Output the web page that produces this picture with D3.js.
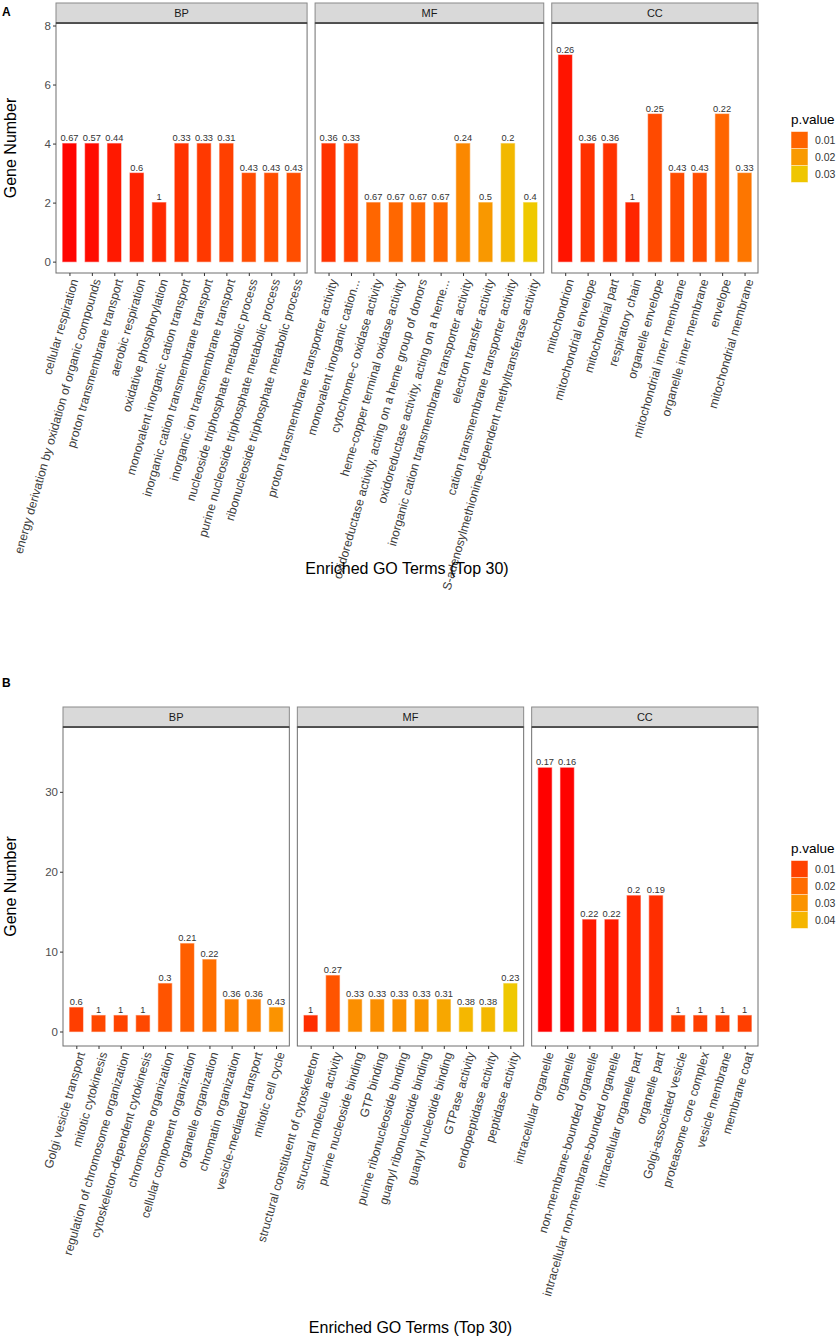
<!DOCTYPE html>
<html>
<head>
<meta charset="utf-8">
<script src="https://cdn.jsdelivr.net/npm/d3@7"></script>
<style>
  body { margin: 0; background: #fff; }
  svg { font-family: "Liberation Sans", Arial, Helvetica, sans-serif; }
</style>
</head>
<body>
<svg id="chart"></svg>
<script>
// ---- data: panel A ----
const aBpTerms = ["cellular respiration", "energy derivation by oxidation of organic compounds",
  "proton transmembrane transport", "aerobic respiration", "oxidative phosphorylation",
  "monovalent inorganic cation transport", "inorganic cation transmembrane transport",
  "inorganic ion transmembrane transport", "nucleoside triphosphate metabolic process",
  "purine nucleoside triphosphate metabolic process", "ribonucleoside triphosphate metabolic process"];
const aBpCounts = [4, 4, 4, 3, 2, 4, 4, 4, 3, 3, 3];
const aBpRatio = [0.67, 0.57, 0.44, 0.6, 1, 0.33, 0.33, 0.31, 0.43, 0.43, 0.43];
const aBpP = [0.0004, 0.0011, 0.0025, 0.0033, 0.004, 0.005, 0.0057, 0.0064, 0.0076, 0.0077, 0.0078];

const aMfTerms = ["proton transmembrane transporter activity", "monovalent inorganic cation...",
  "cytochrome-c oxidase activity", "heme-copper terminal oxidase activity",
  "oxidoreductase activity, acting on a heme group of donors", "oxidoreductase activity, acting on a heme...",
  "inorganic cation transmembrane transporter activity", "electron transfer activity",
  "cation transmembrane transporter activity", "S-adenosylmethionine-dependent methyltransferase activity"];
const aMfCounts = [4, 4, 2, 2, 2, 2, 4, 2, 4, 2];
const aMfRatio = [0.36, 0.33, 0.67, 0.67, 0.67, 0.67, 0.24, 0.5, 0.2, 0.4];
const aMfP = [0.0051, 0.0064, 0.0104, 0.0105, 0.0106, 0.0107, 0.0166, 0.0197, 0.0268, 0.031];

const aCcTerms = ["mitochondrion", "mitochondrial envelope", "mitochondrial part", "respiratory chain",
  "organelle envelope", "mitochondrial inner membrane", "organelle inner membrane", "envelope",
  "mitochondrial membrane"];
const aCcCounts = [7, 4, 4, 2, 5, 3, 3, 5, 3];
const aCcRatio = [0.26, 0.36, 0.36, 1, 0.25, 0.43, 0.43, 0.22, 0.33];
const aCcP = [0.002, 0.0049, 0.005, 0.0038, 0.0074, 0.0076, 0.0077, 0.0102, 0.0134];

const aLegendBreaks = [0.01, 0.02, 0.03];

// ---- data: panel B ----
const bBpTerms = ["Golgi vesicle transport", "mitotic cytokinesis", "regulation of chromosome organization",
  "cytoskeleton-dependent cytokinesis", "chromosome organization", "cellular component organization",
  "organelle organization", "chromatin organization", "vesicle-mediated transport", "mitotic cell cycle"];
const bBpCounts = [3, 2, 2, 2, 6, 11, 9, 4, 4, 3];
const bBpRatio = [0.6, 1, 1, 1, 0.3, 0.21, 0.22, 0.36, 0.36, 0.43];
const bBpP = [0.0094, 0.0114, 0.0104, 0.0115, 0.0143, 0.017, 0.0208, 0.0248, 0.025, 0.030];

const bMfTerms = ["structural constituent of cytoskeleton", "structural molecule activity",
  "purine nucleoside binding", "GTP binding", "purine ribonucleoside binding",
  "guanyl ribonucleotide binding", "guanyl nucleotide binding", "GTPase activity",
  "endopeptidase activity", "peptidase activity"];
const bMfCounts = [2, 7, 4, 4, 4, 4, 4, 3, 3, 6];
const bMfRatio = [1, 0.27, 0.33, 0.33, 0.33, 0.33, 0.31, 0.38, 0.38, 0.23];
const bMfP = [0.007, 0.0143, 0.029, 0.0291, 0.0296, 0.031, 0.036, 0.0405, 0.041, 0.046];

const bCcTerms = ["intracellular organelle", "organelle", "non-membrane-bounded organelle",
  "intracellular non-membrane-bounded organelle", "intracellular organelle part", "organelle part",
  "Golgi-associated vesicle", "proteasome core complex", "vesicle membrane", "membrane coat"];
const bCcCounts = [33, 33, 14, 14, 17, 17, 2, 2, 2, 2];
const bCcRatio = [0.17, 0.16, 0.22, 0.22, 0.2, 0.19, 1, 1, 1, 1];
const bCcP = [0.0002, 0.0003, 0.0038, 0.004, 0.0062, 0.007, 0.0094, 0.0095, 0.0095, 0.0096];

const bLegendBreaks = [0.01, 0.02, 0.03, 0.04];

const facetNames = ["BP", "MF", "CC"];

function build(termsList, countsList, ratioList, pList) {
  return facetNames.map((name, i) => ({
    name: name,
    rows: termsList[i].map((t, j) => ({term: t, count: countsList[i][j], ratio: ratioList[i][j], p: pList[i][j]}))
  }));
}

const figA = {
  tag: "A", top: 3, bottom: 273, left: 56, right: 758,
  yTicks: [0, 2, 4, 6, 8],
  facets: build([aBpTerms, aMfTerms, aCcTerms], [aBpCounts, aMfCounts, aCcCounts],
                [aBpRatio, aMfRatio, aCcRatio], [aBpP, aMfP, aCcP]),
  colorDomain: [0, 0.01, 0.02, 0.03, 0.032],
  colorRange: ["#ff0000", "#ff6400", "#f99a00", "#efc600", "#eecb00"],
  breaks: aLegendBreaks, legendTop: 124, xTitleY: 574, tagY: 16
};
const figB = {
  tag: "B", top: 707, bottom: 1046, left: 63, right: 758,
  yTicks: [0, 10, 20, 30],
  facets: build([bBpTerms, bMfTerms, bCcTerms], [bBpCounts, bMfCounts, bCcCounts],
                [bBpRatio, bMfRatio, bCcRatio], [bBpP, bMfP, bCcP]),
  colorDomain: [0, 0.01, 0.02, 0.03, 0.04, 0.046],
  colorRange: ["#ff0000", "#ff4200", "#ff6c00", "#fb9300", "#f5b500", "#efc800"],
  breaks: bLegendBreaks, legendTop: 853, xTitleY: 1333, tagY: 687
};

const width = 838, height = 1339;
const svg = d3.select("#chart").attr("width", width).attr("height", height);

function drawFigure(fig) {
  const g = svg.append("g");
  const stripH = 20, gap = 8, expandAdd = 0.6;
  const panelTop = fig.top + stripH;

  const color = d3.scaleLinear().domain(fig.colorDomain).range(fig.colorRange).interpolate(d3.interpolateRgb);

  // y scale: counts, with labels making room above (ggplot-like expansion)
  const maxCount = d3.max(fig.facets, f => d3.max(f.rows, d => d.count)) * 1.1;
  const yScale = d3.scaleLinear()
    .domain([-0.05 * maxCount, maxCount * 1.05])
    .range([fig.bottom, panelTop]);

  // free x space: each facet width proportional to its number of terms
  const units = fig.facets.map(f => f.rows.length - 1 + 2 * expandAdd);
  const pxPerUnit = (fig.right - fig.left - gap * (fig.facets.length - 1)) / d3.sum(units);

  let x0 = fig.left;
  fig.facets.forEach((f, i) => {
    const w = units[i] * pxPerUnit;
    const xScale = d3.scalePoint()
      .domain(f.rows.map(d => d.term))
      .range([x0, x0 + w])
      .padding(expandAdd);
    const barW = xScale.step() * 0.6;

    // panel background + border
    g.append("rect")
      .attr("x", x0).attr("y", panelTop)
      .attr("width", w).attr("height", fig.bottom - panelTop)
      .attr("fill", "white").attr("stroke", "#6e6e6e").attr("stroke-width", 1);

    // strip
    g.append("rect")
      .attr("x", x0).attr("y", fig.top)
      .attr("width", w).attr("height", stripH)
      .attr("fill", "#d9d9d9").attr("stroke", "#8a8a8a").attr("stroke-width", 1);
    g.append("line")
      .attr("x1", x0).attr("x2", x0 + w)
      .attr("y1", panelTop).attr("y2", panelTop)
      .attr("stroke", "#333").attr("stroke-width", 1.5);
    g.append("text")
      .attr("x", x0 + w / 2).attr("y", fig.top + stripH / 2)
      .attr("dy", "0.35em")
      .attr("text-anchor", "middle")
      .attr("font-size", 11).attr("fill", "#1a1a1a")
      .text(f.name);

    // bars
    g.selectAll(null)
      .data(f.rows)
      .enter()
      .append("rect")
      .attr("x", d => xScale(d.term) - barW / 2)
      .attr("y", d => yScale(d.count))
      .attr("width", barW)
      .attr("height", d => yScale(0) - yScale(d.count))
      .attr("fill", d => color(d.p))
      .attr("stroke", d => color(d.p))
      .attr("stroke-opacity", 0.45)
      .attr("stroke-width", 1.2);

    // ratio labels
    g.selectAll(null)
      .data(f.rows)
      .enter()
      .append("text")
      .attr("x", d => xScale(d.term))
      .attr("y", d => yScale(d.count) - 2.5)
      .attr("text-anchor", "middle")
      .attr("font-size", 9.3).attr("fill", "#333")
      .text(d => String(d.ratio));

    // x axis: ticks + rotated labels
    const xAxis = g.append("g")
      .attr("transform", `translate(0, ${fig.bottom})`)
      .call(d3.axisBottom(xScale).tickSize(3).tickSizeOuter(0).tickPadding(2));
    xAxis.select(".domain").remove();
    xAxis.selectAll(".tick line").attr("stroke", "#333").attr("stroke-width", 1);
    xAxis.selectAll(".tick text")
      .attr("font-size", 12.2)
      .attr("font-family", "Liberation Sans, Arial, sans-serif")
      .attr("fill", "#3d3d3d")
      .attr("text-anchor", "end")
      .attr("transform", "translate(0,5) rotate(-74)")
      .attr("x", 0).attr("y", 0)
      .attr("dy", "0.72em");

    x0 += w + gap;
  });

  // y axis
  const yAxis = g.append("g")
    .attr("transform", `translate(${fig.left}, 0)`)
    .call(d3.axisLeft(yScale).tickValues(fig.yTicks).tickSize(3).tickSizeOuter(0).tickPadding(2));
  yAxis.select(".domain").remove();
  yAxis.selectAll(".tick line").attr("stroke", "#333");
  yAxis.selectAll(".tick text")
    .attr("font-size", 11.5)
    .attr("font-family", "Liberation Sans, Arial, sans-serif")
    .attr("fill", "#4d4d4d");

  // axis titles
  g.append("text")
    .attr("transform", "rotate(-90)")
    .attr("x", -(panelTop + fig.bottom) / 2)
    .attr("y", 16)
    .attr("text-anchor", "middle")
    .attr("font-size", 16).attr("fill", "#000")
    .text("Gene Number");
  g.append("text")
    .attr("x", (fig.left + fig.right) / 2)
    .attr("y", fig.xTitleY)
    .attr("text-anchor", "middle")
    .attr("font-size", 16).attr("fill", "#000")
    .text("Enriched GO Terms (Top 30)");

  // figure tag
  g.append("text")
    .attr("x", 2).attr("y", fig.tagY)
    .attr("font-size", 12).attr("font-weight", "bold")
    .text(fig.tag);

  // legend
  const lx = 791, keySize = 17;
  g.append("text")
    .attr("x", lx).attr("y", fig.legendTop)
    .attr("font-size", 13.5).attr("fill", "#000")
    .text("p.value");
  const keys = g.selectAll(".key")
    .data(fig.breaks)
    .enter().append("g")
    .attr("class", "key")
    .attr("transform", (d, i) => `translate(${lx}, ${fig.legendTop + 7.5 + i * keySize})`);
  keys.append("rect")
    .attr("x", 0.5).attr("y", 0.5)
    .attr("width", keySize - 1).attr("height", keySize - 1)
    .attr("fill", d => color(d))
    .attr("stroke", d => color(d)).attr("stroke-opacity", 0.45);
  keys.append("text")
    .attr("x", keySize + 7).attr("y", keySize / 2)
    .attr("dy", "0.35em")
    .attr("font-size", 10.5).attr("fill", "#333")
    .text(d => String(d));
}

drawFigure(figA);
drawFigure(figB);
</script>
</body>
</html>
